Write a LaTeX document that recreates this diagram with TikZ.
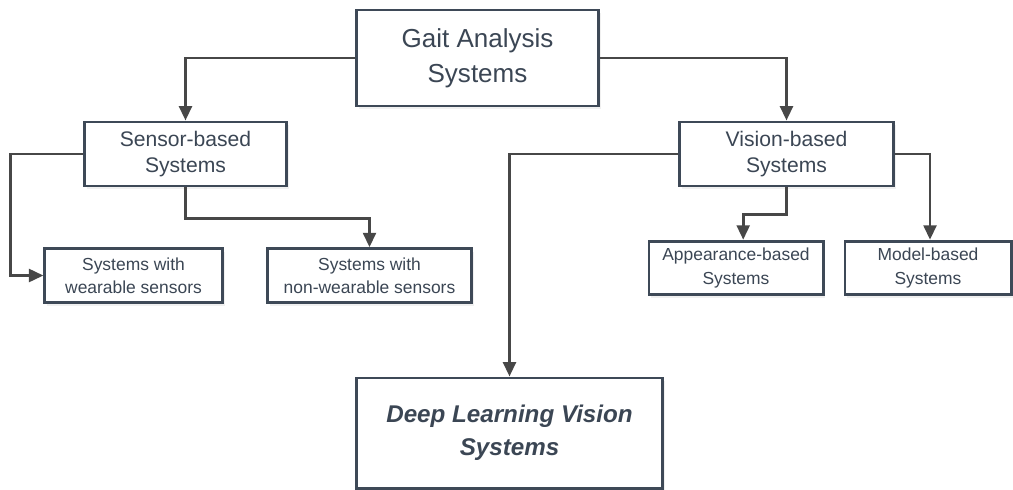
\documentclass[tikz,border=0pt]{standalone}
\usepackage{fontspec}
\setmainfont{Liberation Sans}
\usepackage{xcolor}
\usepackage{tikz}
\usetikzlibrary{arrows.meta, shadows}
\definecolor{boxline}{HTML}{3E4957}
\definecolor{boxtext}{HTML}{3B4654}
\definecolor{wire}{HTML}{474747}
\tikzstyle{sysbox} = [rectangle, draw=boxline, line width=2.1pt, fill=white,
           text=boxtext, align=center, inner sep=0pt,
           drop shadow={opacity=0.12, shadow xshift=0.06cm, shadow yshift=-0.08cm}]
\tikzstyle{rootbox} = [sysbox, minimum height=2.4cm,
           font=\fontsize{18.5}{25}\selectfont]
\tikzstyle{midbox} = [sysbox, minimum height=1.6cm,
           font=\fontsize{15}{19}\selectfont]
\tikzstyle{leafbox} = [sysbox, minimum height=1.34cm,
           font=\fontsize{12.4}{16.4}\selectfont]
\tikzstyle{deepbox} = [sysbox, minimum height=2.75cm,
           font=\fontsize{17.2}{23.4}\selectfont\bfseries\itshape]
\tikzstyle{arrow} = [draw=wire, line width=2pt,
           -{Triangle[length=0.36cm, width=0.32cm]}]

\begin{document}
\begin{tikzpicture}[x=0.025cm, y=-0.025cm]
\useasboundingbox (0,0) rectangle (1013,489);
\node (gait) [rootbox, minimum width=6.03cm] at (477.5,58)
   {Gait Analysis\\Systems};
\node (sensor) [midbox, minimum width=5.03cm] at (185.5,154)
   {Sensor-based\\Systems};
\node (vision) [midbox, minimum width=5.33cm] at (786.5,154)
   {Vision-based\\Systems};
\node (wearable) [leafbox, minimum width=4.43cm] at (133.5,275.5)
   {Systems with\\wearable sensors};
\node (nonwearable) [leafbox, minimum width=5.08cm] at (369.5,275.5)
   {Systems with\\non-wearable sensors};
\node (appearance) [leafbox, minimum width=4.35cm] at (736,268)
   {Appearance-based\\Systems};
\node (model) [leafbox, minimum width=4.15cm] at (928,268)
   {Model-based\\Systems};
\node (deep) [deepbox, minimum width=7.63cm] at (509.5,433)
   {Deep Learning Vision\\Systems};
\draw [arrow] (gait.west) -| (sensor.north);
\draw [arrow] (gait.east) -| (vision.north);
\draw [arrow] (sensor.west) -- ++(-73,0) |- (wearable.west);
\draw [arrow] (sensor.south) -- ++(0,31) -| (nonwearable.north);
\draw [arrow] (vision.west) -| (deep.north);
\draw [arrow] (vision.east) -| ([xshift=0.05cm]model.north);
\draw [arrow] (vision.south) -- ++(0,27) -| ([xshift=0.18cm]appearance.north);
\end{tikzpicture}
\end{document}
